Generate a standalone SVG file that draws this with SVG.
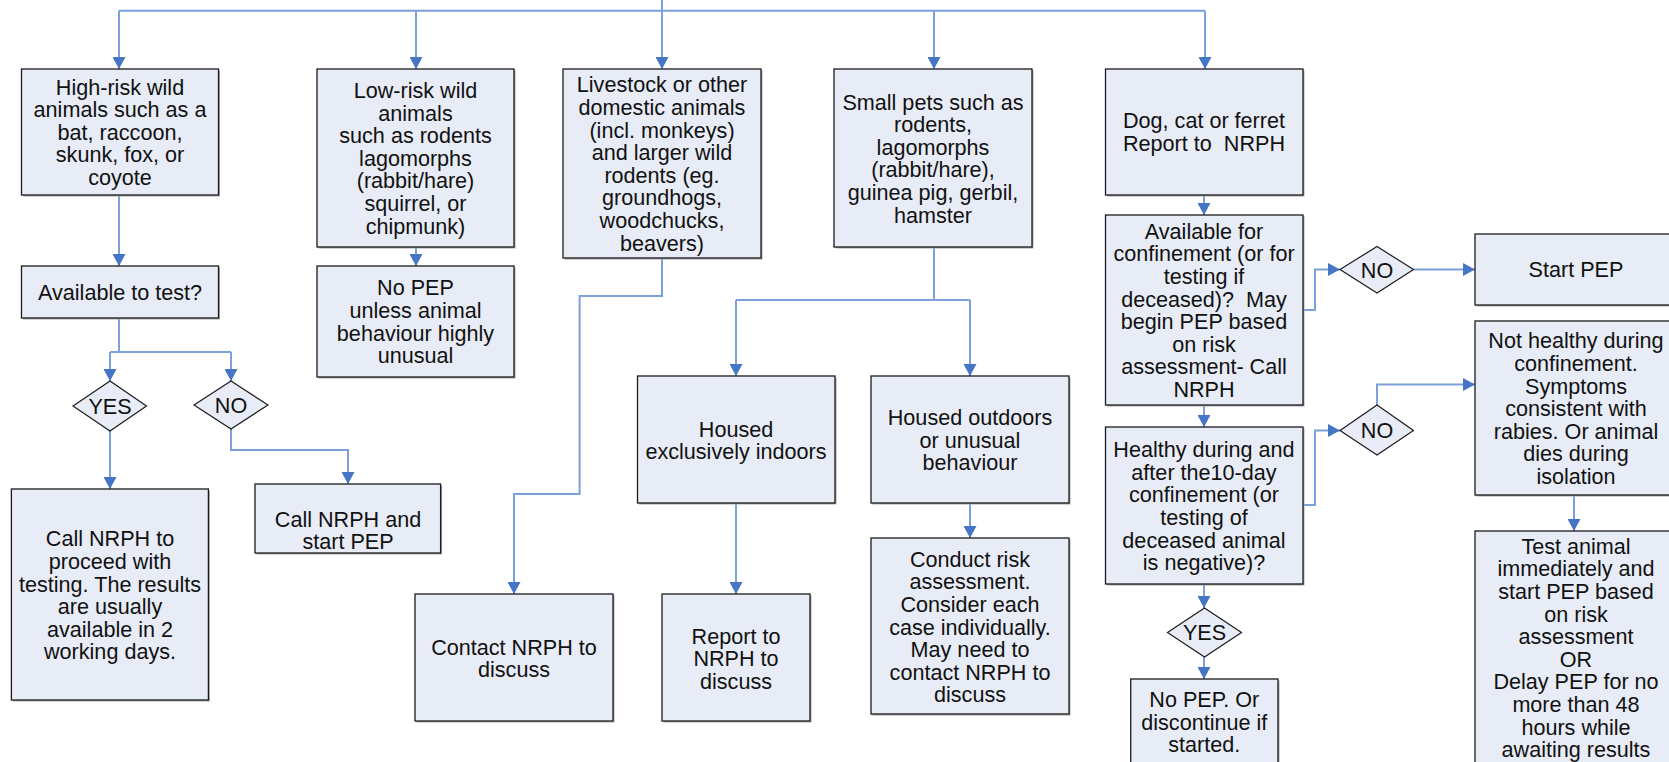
<svg xmlns="http://www.w3.org/2000/svg" width="1669" height="762" viewBox="0 0 1669 762">
<defs>
<style>
.box{fill:#e7ecf6;stroke:#1c1c1c;stroke-width:1.3}
.sh{fill:#a8a8a8}
.dia{fill:#e7ecf6;stroke:#1c1c1c;stroke-width:1.2}
.t{font-family:"Liberation Sans",Arial,sans-serif;font-size:21.6px;fill:#111;text-anchor:middle}
.c{fill:none;stroke:#7ba0dc;stroke-width:2}
.ca{fill:none;stroke:#7ba0dc;stroke-width:2;marker-end:url(#ah)}
</style>
<marker id="ah" viewBox="0 0 12 13" refX="12" refY="6.5" markerWidth="12" markerHeight="13" orient="auto" markerUnits="userSpaceOnUse">
<path d="M0,0 L12,6.5 L0,13 z" fill="#4675c6"/>
</marker>
</defs>
<rect width="1669" height="762" fill="#ffffff"/>

<g id="connectors">
<path class="c" d="M119,10.7 H1205"/>
<path class="ca" d="M119,10.7 V69"/>
<path class="ca" d="M416,10.7 V69"/>
<path class="ca" d="M662,0 V69"/>
<path class="ca" d="M934,10.7 V69"/>
<path class="ca" d="M1205,10.7 V69"/>
<path class="ca" d="M119,195 V266"/>
<path class="c" d="M119,318 V352 M110,352 H231"/>
<path class="ca" d="M110,352 V381"/>
<path class="ca" d="M231,352 V381"/>
<path class="ca" d="M110,431 V489"/>
<path class="ca" d="M231,429 V450 H348 V484"/>
<path class="ca" d="M416,247 V266"/>
<path class="ca" d="M662,258 V296 H579.6 V494 H514 V594"/>
<path class="c" d="M934,247 V300 M736,300 H970"/>
<path class="ca" d="M736,300 V376"/>
<path class="ca" d="M970,300 V376"/>
<path class="ca" d="M736,503 V594"/>
<path class="ca" d="M970,503 V538"/>
<path class="ca" d="M1204,195 V215"/>
<path class="ca" d="M1303,310 H1315 V269.5 H1340"/>
<path class="ca" d="M1413.5,269.5 H1475"/>
<path class="ca" d="M1204,405 V427"/>
<path class="ca" d="M1303,505 H1315 V430.5 H1340"/>
<path class="ca" d="M1377,405 V384.5 H1475"/>
<path class="ca" d="M1574,495 V531"/>
<path class="ca" d="M1204,584 V608"/>
<path class="ca" d="M1204,657 V679"/>
</g>

<g id="high-risk">
<rect class="sh" x="23" y="70.5" width="197" height="126"/>
<rect class="box" x="21.5" y="69" width="197" height="126"/>
<text class="t" y="94.6"><tspan x="120">High-risk wild</tspan><tspan x="120" dy="22.6">animals such as a</tspan><tspan x="120" dy="22.6">bat, raccoon,</tspan><tspan x="120" dy="22.6">skunk, fox, or</tspan><tspan x="120" dy="22.6">coyote</tspan></text>
</g>

<g id="low-risk">
<rect class="sh" x="318.5" y="70.5" width="197" height="178"/>
<rect class="box" x="317" y="69" width="197" height="178"/>
<text class="t" y="98"><tspan x="415.5">Low-risk wild</tspan><tspan x="415.5" dy="22.6">animals</tspan><tspan x="415.5" dy="22.6">such as rodents</tspan><tspan x="415.5" dy="22.6">lagomorphs</tspan><tspan x="415.5" dy="22.6">(rabbit/hare)</tspan><tspan x="415.5" dy="22.6">squirrel, or</tspan><tspan x="415.5" dy="22.6">chipmunk)</tspan></text>
</g>

<g id="available-to-test">
<rect class="sh" x="23" y="267.5" width="197" height="52"/>
<rect class="box" x="21.5" y="266" width="197" height="52"/>
<text class="t" x="120" y="299.8">Available to test?</text>
</g>

<g id="no-pep-unless">
<rect class="sh" x="318.5" y="267.5" width="197" height="111"/>
<rect class="box" x="317" y="266" width="197" height="111"/>
<text class="t" y="295.4"><tspan x="415.5">No PEP</tspan><tspan x="415.5" dy="22.6">unless animal</tspan><tspan x="415.5" dy="22.6">behaviour highly</tspan><tspan x="415.5" dy="22.6">unusual</tspan></text>
</g>

<g id="livestock">
<rect class="sh" x="564.5" y="70.5" width="198" height="189"/>
<rect class="box" x="563" y="69" width="198" height="189"/>
<text class="t" y="92.3"><tspan x="662">Livestock or other</tspan><tspan x="662" dy="22.6">domestic animals</tspan><tspan x="662" dy="22.6">(incl. monkeys)</tspan><tspan x="662" dy="22.6">and larger wild</tspan><tspan x="662" dy="22.6">rodents (eg.</tspan><tspan x="662" dy="22.6">groundhogs,</tspan><tspan x="662" dy="22.6">woodchucks,</tspan><tspan x="662" dy="22.6">beavers)</tspan></text>
</g>

<g id="small-pets">
<rect class="sh" x="835.5" y="70.5" width="198" height="178"/>
<rect class="box" x="834" y="69" width="198" height="178"/>
<text class="t" y="109.6"><tspan x="933">Small pets such as</tspan><tspan x="933" dy="22.6">rodents,</tspan><tspan x="933" dy="22.6">lagomorphs</tspan><tspan x="933" dy="22.6">(rabbit/hare),</tspan><tspan x="933" dy="22.6">guinea pig, gerbil,</tspan><tspan x="933" dy="22.6">hamster</tspan></text>
</g>

<g id="dog-cat-ferret">
<rect class="sh" x="1107" y="70.5" width="197.5" height="126"/>
<rect class="box" x="1105.5" y="69" width="197.5" height="126"/>
<text class="t" y="128.2" xml:space="preserve"><tspan x="1204">Dog, cat or ferret</tspan><tspan x="1204" dy="22.6">Report to  NRPH</tspan></text>
</g>

<g id="available-confinement">
<rect class="sh" x="1107" y="216.5" width="197.5" height="190"/>
<rect class="box" x="1105.5" y="215" width="197.5" height="190"/>
<text class="t" y="238.7" xml:space="preserve"><tspan x="1204">Available for</tspan><tspan x="1204" dy="22.6">confinement (or for</tspan><tspan x="1204" dy="22.6">testing if</tspan><tspan x="1204" dy="22.6">deceased)?  May</tspan><tspan x="1204" dy="22.6">begin PEP based</tspan><tspan x="1204" dy="22.6">on risk</tspan><tspan x="1204" dy="22.6">assessment- Call</tspan><tspan x="1204" dy="22.6">NRPH</tspan></text>
</g>

<g id="no-diamond-1">
<polygon class="dia" points="1340,269.5 1377,246.5 1413.5,269.5 1377,293"/>
<text class="t" x="1377" y="277.5">NO</text>
</g>

<g id="start-pep">
<rect class="sh" x="1476.5" y="235.5" width="202" height="71"/>
<rect class="box" x="1475" y="234" width="202" height="71"/>
<text class="t" x="1576" y="277.2">Start PEP</text>
</g>

<g id="healthy">
<rect class="sh" x="1107" y="428.5" width="197.5" height="157"/>
<rect class="box" x="1105.5" y="427" width="197.5" height="157"/>
<text class="t" y="457.1"><tspan x="1204">Healthy during and</tspan><tspan x="1204" dy="22.6">after the10-day</tspan><tspan x="1204" dy="22.6">confinement (or</tspan><tspan x="1204" dy="22.6">testing of</tspan><tspan x="1204" dy="22.6">deceased animal</tspan><tspan x="1204" dy="22.6">is negative)?</tspan></text>
</g>

<g id="no-diamond-2">
<polygon class="dia" points="1340,430.5 1377,405 1413.5,430.5 1377,455"/>
<text class="t" x="1377" y="438">NO</text>
</g>

<g id="not-healthy">
<rect class="sh" x="1476.5" y="322.5" width="202" height="174"/>
<rect class="box" x="1475" y="321" width="202" height="174"/>
<text class="t" y="348.3"><tspan x="1576">Not healthy during</tspan><tspan x="1576" dy="22.6">confinement.</tspan><tspan x="1576" dy="22.6">Symptoms</tspan><tspan x="1576" dy="22.6">consistent with</tspan><tspan x="1576" dy="22.6">rabies. Or animal</tspan><tspan x="1576" dy="22.6">dies during</tspan><tspan x="1576" dy="22.6">isolation</tspan></text>
</g>

<g id="test-animal">
<rect class="sh" x="1476.5" y="532.5" width="202" height="240"/>
<rect class="box" x="1475" y="531" width="202" height="240"/>
<text class="t" y="553.8"><tspan x="1576">Test animal</tspan><tspan x="1576" dy="22.6">immediately and</tspan><tspan x="1576" dy="22.6">start PEP based</tspan><tspan x="1576" dy="22.6">on risk</tspan><tspan x="1576" dy="22.6">assessment</tspan><tspan x="1576" dy="22.6">OR</tspan><tspan x="1576" dy="22.6">Delay PEP for no</tspan><tspan x="1576" dy="22.6">more than 48</tspan><tspan x="1576" dy="22.6">hours while</tspan><tspan x="1576" dy="22.6">awaiting results</tspan></text>
</g>

<g id="yes-diamond-2">
<polygon class="dia" points="1167.5,632.5 1204.5,608 1241.5,632.5 1204.5,657"/>
<text class="t" x="1204.5" y="640.3">YES</text>
</g>

<g id="no-pep-discontinue">
<rect class="sh" x="1132.2" y="680.5" width="147.3" height="86"/>
<rect class="box" x="1130.7" y="679" width="147.3" height="86"/>
<text class="t" y="707"><tspan x="1204.3">No PEP. Or</tspan><tspan x="1204.3" dy="22.6">discontinue if</tspan><tspan x="1204.3" dy="22.6">started.</tspan></text>
</g>

<g id="yes-diamond-1">
<polygon class="dia" points="73,406 110,381 146.5,406 110,431"/>
<text class="t" x="110" y="413.8">YES</text>
</g>

<g id="no-diamond-left">
<polygon class="dia" points="194,405 231,381 268,405 231,429"/>
<text class="t" x="231" y="412.8">NO</text>
</g>

<g id="call-nrph-proceed">
<rect class="sh" x="12.9" y="490.5" width="197" height="211"/>
<rect class="box" x="11.4" y="489" width="197" height="211"/>
<text class="t" y="546.3"><tspan x="110">Call NRPH to</tspan><tspan x="110" dy="22.6">proceed with</tspan><tspan x="110" dy="22.6">testing. The results</tspan><tspan x="110" dy="22.6">are usually</tspan><tspan x="110" dy="22.6">available in 2</tspan><tspan x="110" dy="22.6">working days.</tspan></text>
</g>

<g id="call-nrph-start">
<rect class="sh" x="256.5" y="485.5" width="185.6" height="69"/>
<rect class="box" x="255" y="484" width="185.6" height="69"/>
<text class="t" y="526.5"><tspan x="348">Call NRPH and</tspan><tspan x="348" dy="22.6">start PEP</tspan></text>
</g>

<g id="contact-nrph">
<rect class="sh" x="416.5" y="595.5" width="198" height="127"/>
<rect class="box" x="415" y="594" width="198" height="127"/>
<text class="t" y="654.8"><tspan x="514">Contact NRPH to</tspan><tspan x="514" dy="22.6">discuss</tspan></text>
</g>

<g id="housed-indoors">
<rect class="sh" x="639" y="377.5" width="197.5" height="127"/>
<rect class="box" x="637.5" y="376" width="197.5" height="127"/>
<text class="t" y="436.5"><tspan x="736">Housed</tspan><tspan x="736" dy="22.6">exclusively indoors</tspan></text>
</g>

<g id="housed-outdoors">
<rect class="sh" x="872.5" y="377.5" width="198" height="127"/>
<rect class="box" x="871" y="376" width="198" height="127"/>
<text class="t" y="425"><tspan x="970">Housed outdoors</tspan><tspan x="970" dy="22.6">or unusual</tspan><tspan x="970" dy="22.6">behaviour</tspan></text>
</g>

<g id="report-nrph">
<rect class="sh" x="663.5" y="595.5" width="148" height="127"/>
<rect class="box" x="662" y="594" width="148" height="127"/>
<text class="t" y="643.5"><tspan x="736">Report to</tspan><tspan x="736" dy="22.6">NRPH to</tspan><tspan x="736" dy="22.6">discuss</tspan></text>
</g>

<g id="conduct-risk">
<rect class="sh" x="872.5" y="539.5" width="198" height="176"/>
<rect class="box" x="871" y="538" width="198" height="176"/>
<text class="t" y="566.8"><tspan x="970">Conduct risk</tspan><tspan x="970" dy="22.6">assessment.</tspan><tspan x="970" dy="22.6">Consider each</tspan><tspan x="970" dy="22.6">case individually.</tspan><tspan x="970" dy="22.6">May need to</tspan><tspan x="970" dy="22.6">contact NRPH to</tspan><tspan x="970" dy="22.6">discuss</tspan></text>
</g>
</svg>
